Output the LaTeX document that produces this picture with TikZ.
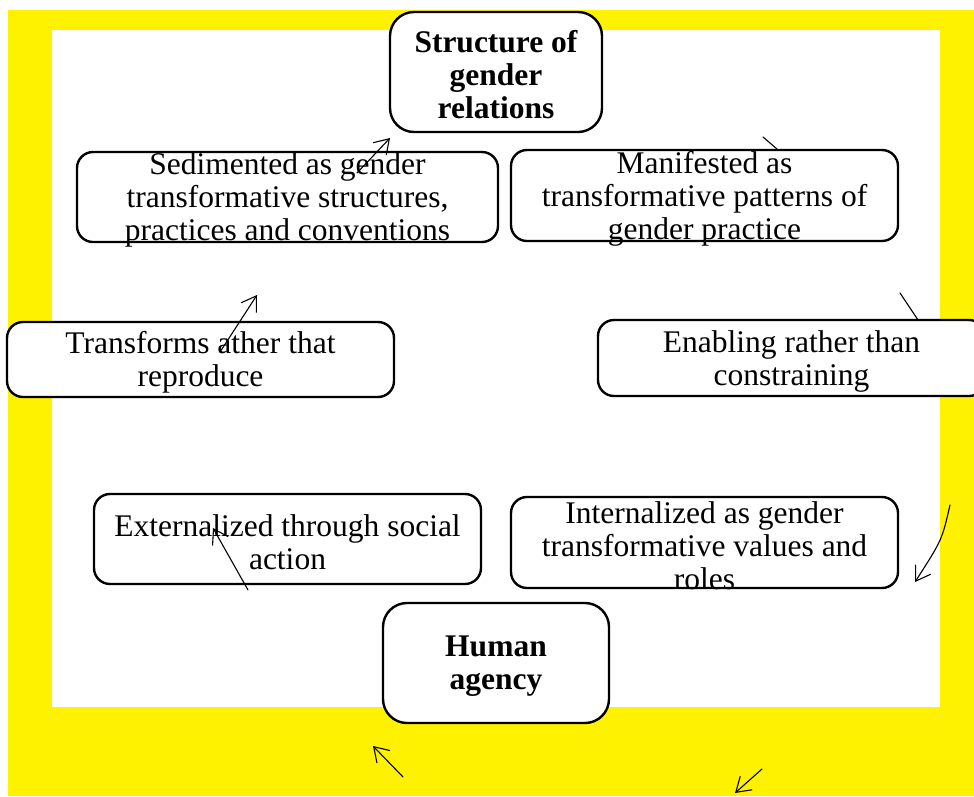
\documentclass[tikz,border=0pt]{standalone}
\usepackage{fontspec}
\setmainfont{Liberation Serif}
\usetikzlibrary{arrows.meta}
\begin{document}
\begin{tikzpicture}[x=1pt,y=-1pt,
  stepbox/.style={draw=black, line width=2.4pt, fill=white, rounded corners=16pt,
    inner sep=0pt, outer sep=0pt},
  keybox/.style={stepbox, rounded corners=24pt},
  boxtext/.style={align=center, inner sep=0pt, yshift=-3pt, font=\fontsize{31.5}{33}\selectfont},
  keytext/.style={boxtext, font=\fontsize{31.5}{33}\selectfont\bfseries},
  flow/.style={line width=1.1pt, line cap=round, -{Straight Barb[length=14pt,width=18pt,line width=1.1pt]}},
  stub/.style={line width=1.1pt, line cap=round}]
\useasboundingbox (0,0) rectangle (974,796);
% frame: yellow band around a white panel
\fill[yellow] (8,10) rectangle (974,796);
\fill[white] (52,30) rectangle (940,707);

% boxes
\node[keybox, minimum width=212pt, minimum height=120pt] (gr) at (496,72) {};
\node[stepbox, minimum width=421pt, minimum height=90pt] (sed) at (287.5,197) {};
\node[stepbox, minimum width=387pt, minimum height=91pt] (man) at (704.5,195.5) {};
\node[stepbox, minimum width=387pt, minimum height=75pt] (trf) at (200.5,359.5) {};
\node[stepbox, minimum width=387pt, minimum height=76pt] (enb) at (791.5,358) {};
\node[stepbox, minimum width=387pt, minimum height=90pt] (ext) at (287.5,539) {};
\node[stepbox, minimum width=387pt, minimum height=91pt] (int) at (704.5,542.5) {};
\node[keybox, minimum width=226pt, minimum height=120pt] (ha) at (496,663) {};

% labels
\node[keytext] at (gr.center) {Structure of\\gender\\relations};
\node[boxtext] at (sed.center) {Sedimented as gender\\transformative structures,\\practices and conventions};
\node[boxtext] at (man.center) {Manifested as\\transformative patterns of\\gender practice};
\node[boxtext] at (trf.center) {Transforms ather that\\reproduce};
\node[boxtext] at (enb.center) {Enabling rather than\\constraining};
\node[boxtext] at (ext.center) {Externalized through social\\action};
\node[boxtext] at (int.center) {Internalized as  gender\\transformative values and\\roles};
\node[keytext] at (ha.center) {Human\\agency};

% loose connector ends
\coordinate (a1s) at (357,173); \coordinate (a1e) at (390,138);
\coordinate (s1s) at (763,137); \coordinate (s1e) at (777,149);
\coordinate (a2s) at (220,352); \coordinate (a2e) at (257,295);
\coordinate (s2s) at (900,293); \coordinate (s2e) at (918,320);
\coordinate (a3s) at (950,505); \coordinate (a3c) at (942,540); \coordinate (a3e) at (915,582);
\coordinate (a4s) at (248,590); \coordinate (a4e) at (213,528);
\coordinate (a5s) at (403,777); \coordinate (a5e) at (373,746);
\coordinate (a6s) at (762,769); \coordinate (a6e) at (735,793);

\draw[flow] (a1s) -- (a1e);
\draw[stub] (s1s) -- (s1e);
\draw[flow] (a2s) -- (a2e);
\draw[stub] (s2s) -- (s2e);
\draw[flow] (a3s) .. controls (a3c) .. (a3e);
\draw[flow] (a4s) -- (a4e);
\draw[flow] (a5s) -- (a5e);
\draw[flow] (a6s) -- (a6e);
\end{tikzpicture}
\end{document}
